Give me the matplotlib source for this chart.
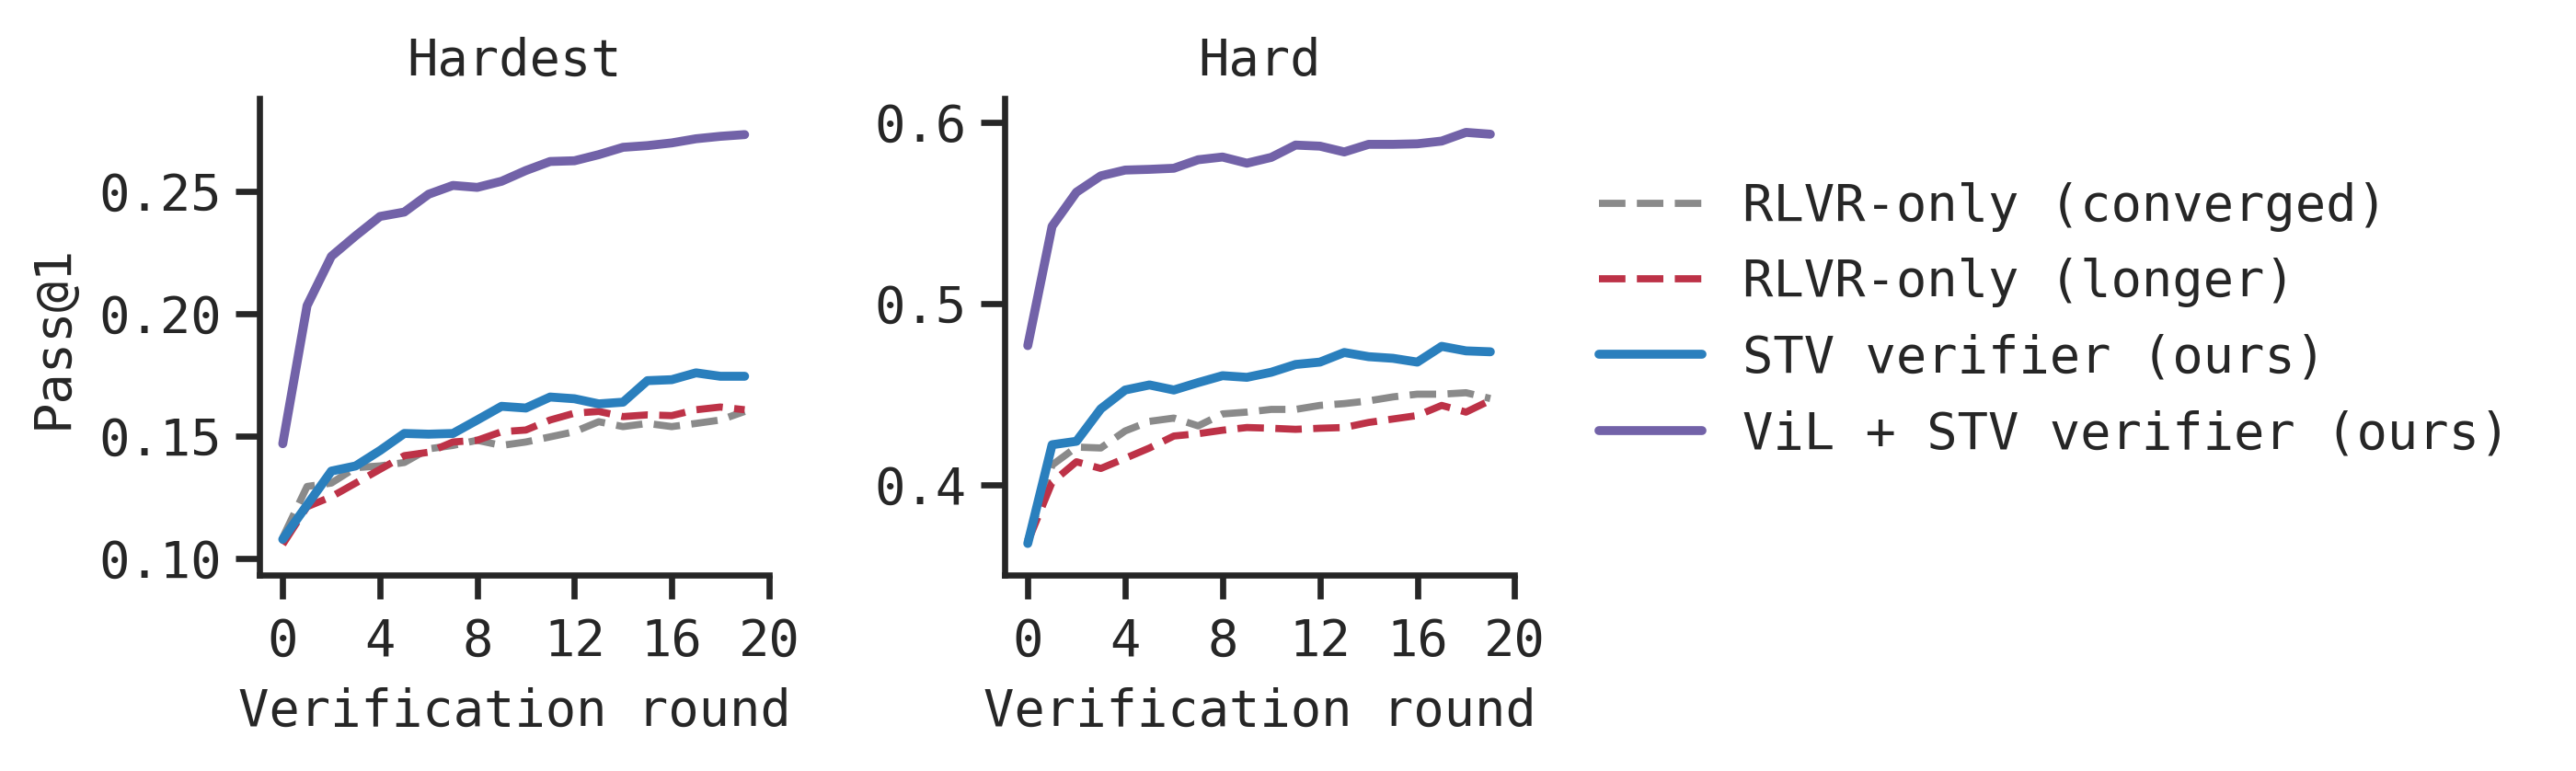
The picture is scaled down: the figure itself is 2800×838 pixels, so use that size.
import numpy as np
import matplotlib
matplotlib.use("Agg")
import matplotlib.pyplot as plt

rounds = np.arange(20)

# Hardest split
hardest_converged = [0.1084, 0.1293, 0.1307, 0.1370, 0.1377, 0.1391, 0.1447, 0.1461, 0.1482, 0.1461,
                     0.1475, 0.1496, 0.1517, 0.1558, 0.1538, 0.1551, 0.1538, 0.1551, 0.1565, 0.1600]
hardest_longer = [0.1056, 0.1210, 0.1251, 0.1307, 0.1363, 0.1419, 0.1433, 0.1475, 0.1482, 0.1517,
                  0.1524, 0.1565, 0.1593, 0.1600, 0.1579, 0.1586, 0.1583, 0.1607, 0.1618, 0.1607]
hardest_stv = [0.1077, 0.1217, 0.1356, 0.1377, 0.1440, 0.1510, 0.1507, 0.1510, 0.1565, 0.1621,
               0.1614, 0.1659, 0.1652, 0.1631, 0.1638, 0.1726, 0.1730, 0.1758, 0.1744, 0.1744]
hardest_vil = [0.1468, 0.2033, 0.2235, 0.2319, 0.2398, 0.2416, 0.2489, 0.2525, 0.2517, 0.2542,
               0.2586, 0.2623, 0.2626, 0.2651, 0.2681, 0.2688, 0.2699, 0.2716, 0.2726, 0.2733]

# Hard split
hard_converged = [0.3693, 0.4108, 0.4207, 0.4202, 0.4296, 0.4349, 0.4367, 0.4324, 0.4390, 0.4400,
                  0.4415, 0.4415, 0.4437, 0.4447, 0.4462, 0.4484, 0.4499, 0.4499, 0.4507, 0.4475]
hard_longer = [0.3684, 0.4013, 0.4126, 0.4089, 0.4145, 0.4202, 0.4268, 0.4281, 0.4300, 0.4315,
               0.4311, 0.4305, 0.4311, 0.4315, 0.4343, 0.4362, 0.4381, 0.4437, 0.4400, 0.4465]
hard_stv = [0.3675, 0.4220, 0.4239, 0.4418, 0.4522, 0.4550, 0.4522, 0.4563, 0.4601, 0.4592,
            0.4620, 0.4663, 0.4676, 0.4729, 0.4706, 0.4697, 0.4676, 0.4763, 0.4738, 0.4733]
hard_vil = [0.4767, 0.5426, 0.5614, 0.5704, 0.5736, 0.5740, 0.5746, 0.5793, 0.5808, 0.5774,
            0.5806, 0.5874, 0.5868, 0.5836, 0.5878, 0.5878, 0.5881, 0.5896, 0.5944, 0.5934]

labels = ["RLVR-only (converged)", "RLVR-only (longer)", "STV verifier (ours)", "ViL + STV verifier (ours)"]
colors = ["#8a8a8a", "#bd3247", "#2a7fbd", "#7262a8"]
styles = ["--", "--", "-", "-"]
widths = [2.8, 2.8, 3.5, 3.5]

plt.rcParams["font.family"] = ["DejaVu Sans Mono"]
plt.rcParams["font.size"] = 20
plt.rcParams["axes.edgecolor"] = "#262626"
plt.rcParams["text.color"] = "#262626"
plt.rcParams["xtick.color"] = "#262626"
plt.rcParams["ytick.color"] = "#262626"
plt.rcParams["axes.labelcolor"] = "#262626"

fig = plt.figure(figsize=(14, 4.19), dpi=200)
ax1 = fig.add_axes([0.1008, 0.254, 0.1977, 0.618])
ax2 = fig.add_axes([0.390, 0.254, 0.198, 0.618])

panels = [
    (ax1, "Hardest", [hardest_converged, hardest_longer, hardest_stv, hardest_vil], (0.093, 0.288), [0.10, 0.15, 0.20, 0.25], "%.2f"),
    (ax2, "Hard", [hard_converged, hard_longer, hard_stv, hard_vil], (0.350, 0.613), [0.4, 0.5, 0.6], "%.1f"),
]

for ax, title, series, ylim, yticks, fmt in panels:
    for vals, lab, col, ls, lw in zip(series, labels, colors, styles, widths):
        ax.plot(rounds, vals, ls, color=col, lw=lw, label=lab, solid_capstyle="round")
    ax.set_title(title, fontsize=20, pad=9)
    ax.set_xticks([0, 4, 8, 12, 16, 20])
    ax.set_xlim(-0.95, 20)
    ax.set_ylim(*ylim)
    ax.set_yticks(yticks)
    ax.set_yticklabels([fmt % v for v in yticks])
    ax.set_xlabel("Verification round", fontsize=20, labelpad=8)
    for s in ["top", "right"]:
        ax.spines[s].set_visible(False)
    for s in ["left", "bottom"]:
        ax.spines[s].set_linewidth(2.4)
    ax.tick_params(axis="x", length=9.5, width=2.4, labelsize=20, pad=7)
    ax.tick_params(axis="y", length=9.5, width=2.4, labelsize=20, pad=5.5)

ax1.set_ylabel("Pass@1", fontsize=20, labelpad=8)

handles, labs = ax1.get_legend_handles_labels()
fig.legend(handles, labs, loc="center left", bbox_to_anchor=(0.603, 0.584), frameon=False,
           fontsize=20, labelspacing=0.51, handlelength=2.0)

fig.savefig("out.png", dpi=200)
